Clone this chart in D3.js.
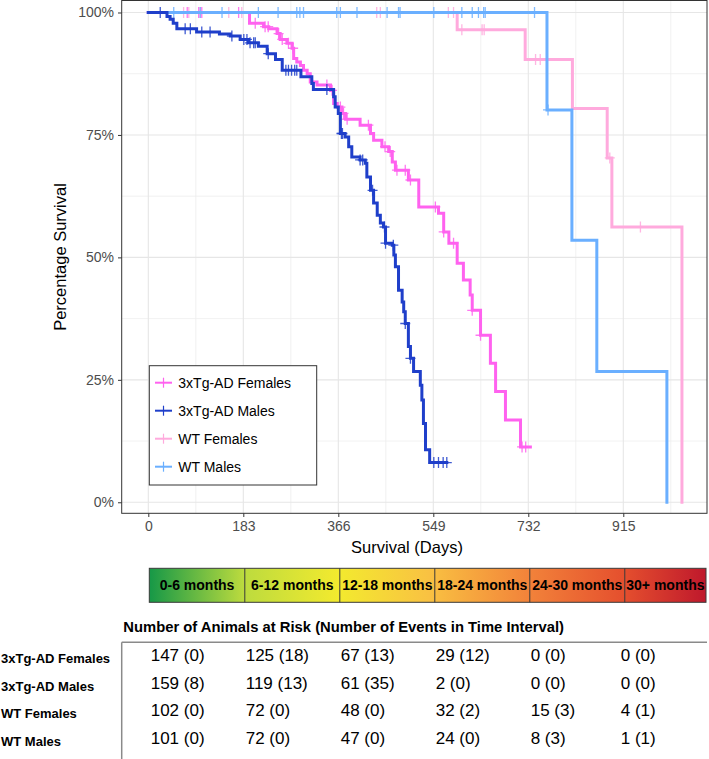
<!DOCTYPE html>
<html><head><meta charset="utf-8">
<script src="https://cdn.jsdelivr.net/npm/d3@7"></script>
<style>
body{margin:0;background:#fff;}
text{font-family:"Liberation Sans",Arial,Helvetica,sans-serif;}
</style>
</head><body>
<svg id="chart" width="709" height="759"></svg>
<script>
// ---------------- data ----------------
const seriesNames = ["3xTg-AD Females", "3xTg-AD Males", "WT Females", "WT Males"];
const seriesColors = ["#ff62ef", "#1f3fca", "#ffaadd", "#6aafff"];

// step points: [day, survival %]
const tgFemaleSteps = [[0,100],[195,97.8],[222,97.1],[232,96.7],[248,95.7],[254,94.5],[267,93.7],[277,92.7],[280,90.6],[286,89.9],[293,89.2],[299,88.2],[306,87.5],[312,85.8],[325,85.2],[351,84.1],[357,81.4],[364,80.7],[373,79.4],[380,78.2],[408,77.0],[428,75.3],[434,73.9],[450,72.6],[463,71.6],[470,69.5],[476,67.8],[501,65.8],[521,60.3],[559,59.0],[569,55.2],[579,52.9],[595,48.8],[607,45.4],[620,42.3],[624,39.2],[640,34.1],[659,28.4],[669,22.6],[688,16.8],[717,11.3]];
const tgFemaleEnd = 736;
const tgFemaleCensor = [75,97,103,174,206,225,231,251,258,270,279,344,354,370,376,383,424,456,466,479,495,505,553,569,588,624,640,720,727];

const tgMaleSteps = [[0,100],[36,99.2],[42,98.6],[48,97.8],[55,96.7],[93,96.0],[137,95.6],[158,95.2],[177,94.5],[193,93.8],[212,93.1],[229,91.6],[245,90.4],[258,88.2],[294,86.9],[315,85.5],[318,84.3],[357,82.8],[360,80.7],[366,79.4],[370,75.3],[379,74.6],[386,72.6],[392,70.5],[408,69.9],[418,69.2],[421,66.4],[428,63.7],[434,61.1],[441,58.6],[447,57.0],[453,56.2],[457,52.9],[470,52.5],[473,50.5],[476,48.1],[482,43.3],[489,40.9],[492,38.9],[495,36.5],[501,31.8],[505,29.4],[511,26.7],[524,23.9],[527,20.9],[530,16.1],[534,10.7],[542,8.1]];
const tgMaleEnd = 575;
const tgMaleCensor = [23,71,81,103,119,161,184,190,196,203,206,231,265,270,276,282,286,344,372,374,408,413,432,455,457,472,495,505,550,559,568,575];

const wtFemaleSteps = [[0,100],[595,96.5],[726,90.4],[817,80.4],[884,70.3],[893,56.2],[1028,0]];
const wtFemaleEnd = 1028;
const wtFemaleCensor = [68,78,100,155,180,440,447,578,588,604,643,647,746,755,889,948];

const wtMaleSteps = [[0,100],[768,80.1],[816,53.5],[864,26.7],[999,0]];
const wtMaleEnd = 999;
const wtMaleCensor = [49,100,142,212,250,286,292,299,363,370,402,460,482,485,550,604,624,636,646,649,744,770];

const xTicks = [0, 183, 366, 549, 732, 915];
const yTicks = [0, 25, 50, 75, 100];
const yTickLabels = ["0%", "25%", "50%", "75%", "100%"];

const intervalLabels = ["0-6 months", "6-12 months", "12-18 months", "18-24 months", "24-30 months", "30+ months"];
const intervalStarts = [0, 183, 366, 549, 732, 915];

const riskTgFemales = ["147 (0)", "125 (18)", "67 (13)", "29 (12)", "0 (0)", "0 (0)"];
const riskTgMales   = ["159 (8)", "119 (13)", "61 (35)", "2 (0)", "0 (0)", "0 (0)"];
const riskWtFemales = ["102 (0)", "72 (0)", "48 (0)", "32 (2)", "15 (3)", "4 (1)"];
const riskWtMales   = ["101 (0)", "72 (0)", "47 (0)", "24 (0)", "8 (3)", "1 (1)"];

// ---------------- chart ----------------
const svg = d3.select("#chart");
const P = {l: 121.7, r: 707, t: 0.5, b: 513.3};
const x = d3.scaleLinear().domain([-51.25, 1076.25]).range([P.l, P.r]);
const y = d3.scaleLinear().domain([-2.25, 102.45]).range([P.b, P.t]);

// grid
const g = svg.append("g");
const minorX = xTicks.map(d => d + 91.5).filter(d => d < 1076);
const minorY = [12.5, 37.5, 62.5, 87.5];
g.selectAll(".mx").data(minorX).join("line")
  .attr("x1", d => x(d)).attr("x2", d => x(d)).attr("y1", P.t).attr("y2", P.b)
  .attr("stroke", "#ededed").attr("stroke-width", 0.8);
g.selectAll(".my").data(minorY).join("line")
  .attr("y1", d => y(d)).attr("y2", d => y(d)).attr("x1", P.l).attr("x2", P.r)
  .attr("stroke", "#ededed").attr("stroke-width", 0.8);
g.selectAll(".gx").data(xTicks).join("line")
  .attr("x1", d => x(d)).attr("x2", d => x(d)).attr("y1", P.t).attr("y2", P.b)
  .attr("stroke", "#e6e6e6").attr("stroke-width", 1.1);
g.selectAll(".gy").data(yTicks).join("line")
  .attr("y1", d => y(d)).attr("y2", d => y(d)).attr("x1", P.l).attr("x2", P.r)
  .attr("stroke", "#e6e6e6").attr("stroke-width", 1.1);

// curves
const series = [
  {steps: tgFemaleSteps, end: tgFemaleEnd, censor: tgFemaleCensor, color: seriesColors[0]},
  {steps: tgMaleSteps, end: tgMaleEnd, censor: tgMaleCensor, color: seriesColors[1]},
  {steps: wtFemaleSteps, end: wtFemaleEnd, censor: wtFemaleCensor, color: seriesColors[2]},
  {steps: wtMaleSteps, end: wtMaleEnd, censor: wtMaleCensor, color: seriesColors[3]}
];
const line = d3.line().x(d => x(d[0])).y(d => y(d[1])).curve(d3.curveStepAfter);
function survAt(steps, t) {
  let v = steps[0][1];
  for (const s of steps) { if (s[0] <= t) v = s[1]; }
  return v;
}
const drawOrder = [0, 2, 3, 1];
drawOrder.forEach(i => {
  const s = series[i];
  const last = s.steps[s.steps.length - 1];
  const pts = s.steps.concat(last[0] < s.end ? [[s.end, last[1]]] : []);
  const sg = svg.append("g");
  sg.append("path").datum(pts).attr("d", line)
    .attr("fill", "none").attr("stroke", s.color).attr("stroke-width", 3)
    .attr("stroke-linejoin", "miter").attr("stroke-linecap", "square");
  sg.selectAll("path.c").data(s.censor).join("path").attr("class", "c")
    .attr("transform", d => `translate(${x(d)},${y(survAt(s.steps, d))})`)
    .attr("d", "M-5,0H5M0,-5.5V5.5")
    .attr("stroke", s.color).attr("stroke-width", 1.3).attr("opacity", 0.85);
});

// panel border
svg.append("rect").attr("x", P.l).attr("y", P.t).attr("width", P.r - P.l).attr("height", P.b - P.t)
  .attr("fill", "none").attr("stroke", "#333").attr("stroke-width", 1);

// axes
const ax = svg.append("g").attr("transform", `translate(0,${P.b})`)
  .call(d3.axisBottom(x).tickValues(xTicks).tickSize(3.7).tickPadding(4));
const ay = svg.append("g").attr("transform", `translate(${P.l},0)`)
  .call(d3.axisLeft(y).tickValues(yTicks).tickFormat((d, i) => yTickLabels[i]).tickSize(3.7).tickPadding(4));
[ax, ay].forEach(a => {
  a.select(".domain").remove();
  a.selectAll(".tick line").attr("stroke", "#333");
  a.selectAll(".tick text").attr("fill", "#4d4d4d").style("font-size", "14px")
    .style("font-family", "'Liberation Sans',Arial,sans-serif");
});

svg.append("text").attr("x", 407).attr("y", 547).attr("text-anchor", "middle")
  .attr("dominant-baseline", "central").style("font-size", "16.5px").text("Survival (Days)");
svg.append("text").attr("transform", "translate(60,257) rotate(-90)").attr("text-anchor", "middle")
  .attr("dominant-baseline", "central").style("font-size", "16.5px").text("Percentage Survival");

// legend
const lg = svg.append("g");
lg.append("rect").attr("x", 149.3).attr("y", 365.7).attr("width", 167.4).attr("height", 119.3)
  .attr("fill", "#fff").attr("stroke", "#333").attr("stroke-width", 1);
seriesNames.forEach((n, i) => {
  const yy = 382.7 + i * 28;
  lg.append("line").attr("x1", 155).attr("x2", 172).attr("y1", yy).attr("y2", yy)
    .attr("stroke", seriesColors[i]).attr("stroke-width", 2);
  lg.append("line").attr("x1", 163.5).attr("x2", 163.5).attr("y1", yy - 5).attr("y2", yy + 5)
    .attr("stroke", seriesColors[i]).attr("stroke-width", 1.2);
  lg.append("text").attr("x", 178.3).attr("y", yy).attr("dominant-baseline", "central")
    .style("font-size", "14px").attr("fill", "#000").text(n);
});

// colour bar
const defs = svg.append("defs");
const grad = defs.append("linearGradient").attr("id", "bargrad").attr("x1", "0%").attr("x2", "100%");
[[0, "#169847"], [0.17, "#bcdb3e"], [0.34, "#f3ea2e"], [0.5, "#f9c242"], [0.68, "#f2833a"], [0.85, "#e5502e"], [1, "#bf182c"]]
  .forEach(s => grad.append("stop").attr("offset", s[0]).attr("stop-color", s[1]));
const barL = x(0) + 1, barR = 706, barT = 568.3, barB = 602.3;
svg.append("rect").attr("x", barL).attr("y", barT).attr("width", barR - barL).attr("height", barB - barT)
  .attr("fill", "url(#bargrad)").attr("stroke", "#3a3a3a").attr("stroke-width", 1);
const segEdges = intervalStarts.map((d, i) => i === 0 ? barL : x(d) + 1.5).concat([barR]);
svg.selectAll(".div").data(segEdges.slice(1, -1)).join("line")
  .attr("x1", d => d).attr("x2", d => d).attr("y1", barT).attr("y2", barB)
  .attr("stroke", "#3a3a3a").attr("stroke-width", 1);
svg.selectAll(".seglab").data(intervalLabels).join("text")
  .attr("x", (d, i) => (segEdges[i] + segEdges[i + 1]) / 2).attr("y", 585.3)
  .attr("text-anchor", "middle").attr("dominant-baseline", "central")
  .style("font-size", "14px").style("font-weight", "bold").text(d => d);

// risk table
svg.append("text").attr("x", 123.3).attr("y", 627).attr("dominant-baseline", "central")
  .style("font-size", "14.8px").style("font-weight", "bold")
  .text("Number of Animals at Risk (Number of Events in Time Interval)");
svg.append("line").attr("x1", 121.7).attr("x2", 707).attr("y1", 642.3).attr("y2", 642.3)
  .attr("stroke", "#8a8a8a").attr("stroke-width", 1.5);
svg.append("line").attr("x1", 121.7).attr("x2", 121.7).attr("y1", 642.3).attr("y2", 759)
  .attr("stroke", "#8a8a8a").attr("stroke-width", 1.5);
const riskRows = [riskTgFemales, riskTgMales, riskWtFemales, riskWtMales];
const colX = intervalStarts.map((d, i) => i < 5 ? x(d) + 2.4 : x(d) - 2.5);
riskRows.forEach((row, r) => {
  const yy = 658.3 + r * 27.7;
  svg.append("text").attr("x", 1).attr("y", yy).attr("dominant-baseline", "central")
    .style("font-size", "13px").style("font-weight", "bold").text(seriesNames[r]);
  svg.selectAll(".rv" + r).data(row).join("text")
    .attr("x", (d, i) => colX[i]).attr("y", yy - 2.8).attr("dominant-baseline", "central")
    .style("font-size", "17px").text(d => d);
});
</script>
</body></html>
